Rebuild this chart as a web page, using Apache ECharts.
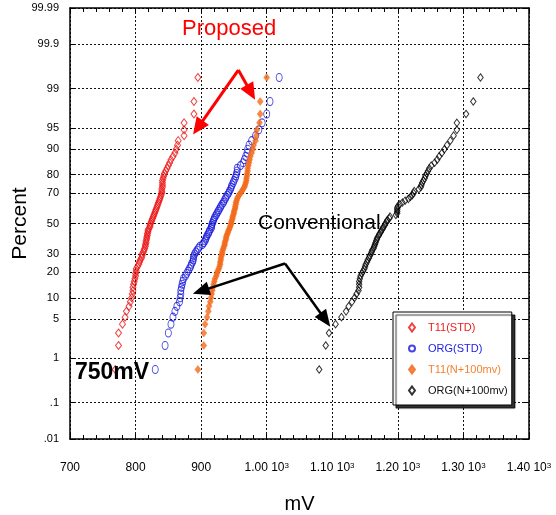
<!DOCTYPE html>
<html><head><meta charset="utf-8">
<script src="https://cdn.jsdelivr.net/npm/echarts@6/dist/echarts.min.js"></script>
<style>html,body{margin:0;padding:0;background:#fff}#c{width:556px;height:515px}</style>
</head><body><div id="c"></div>
<script>
// ---------- data (mV, sorted; plotted at median-rank percentiles) ----------
const seriesNames = ['T11(STD)', 'ORG(STD)', 'T11(N+100mv)', 'ORG(N+100mv)'];
const t11Std = [769,774,774,780,784,786,790,792,794,795,
  796,796,797,798,799,800,800,801,801,803,
  805,806,807,809,810,810,812,813,814,815,
  815,816,816,817,817,818,818,819,819,820,
  822,822,823,824,825,826,827,828,829,830,
  831,832,833,834,835,836,837,838,839,840,
  840,840,841,841,841,841,842,843,844,846,
  848,850,852,854,857,860,862,864,865,874,
  874,874,889,889,895];
const orgStd = [830,845,850,854,857,860,863,867,868,869,
  869,870,871,872,873,876,878,880,882,884,
  885,887,888,888,889,890,892,894,896,898,
  902,904,906,907,908,909,911,912,913,915,
  916,916,917,918,919,920,921,923,924,926,
  927,929,930,932,934,935,937,938,940,942,
  943,945,946,947,949,950,952,953,954,955,
  955,960,964,966,968,970,971,973,977,983,
  988,993,1000,1005,1019];
const t11N100 = [895,904,904,906,909,911,912,914,915,916,
  917,918,919,920,921,923,924,925,927,928,
  929,929,930,930,931,932,932,933,934,935,
  936,936,937,938,938,939,940,941,942,943,
  944,945,946,946,947,948,948,949,950,950,
  951,952,952,953,953,954,955,956,958,960,
  962,964,966,967,968,969,969,970,970,971,
  971,972,973,974,975,977,979,980,983,984,
  985,989,990,990,1000];
const orgN100 = [1080,1090,1095,1105,1114,1121,1125,1130,1134,1137,
  1140,1141,1141,1141,1142,1143,1145,1147,1149,1150,
  1151,1153,1154,1156,1157,1159,1160,1161,1163,1164,
  1165,1166,1167,1168,1169,1171,1172,1174,1175,1177,
  1178,1180,1181,1183,1184,1187,1188,1197,1199,1199,
  1199,1199,1200,1203,1207,1211,1216,1219,1222,1224,
  1225,1232,1235,1236,1237,1239,1241,1242,1244,1246,
  1248,1251,1256,1260,1263,1267,1271,1275,1280,1285,
  1290,1290,1304,1315,1326];

const xTickValues = [700, 800, 900, 1000, 1100, 1200, 1300, 1400];
const xTickLabels = ['700', '800', '900', '1.00 10^3', '1.10 10^3', '1.20 10^3', '1.30 10^3', '1.40 10^3'];
const yTickPercents = [0.01, 0.1, 1, 5, 10, 20, 30, 50, 70, 80, 90, 95, 99, 99.9, 99.99];
const yTickLabels = ['.01', '.1', '1', '5', '10', '20', '30', '50', '70', '80', '90', '95', '99', '99.9', '99.99'];

// annotation arrows: [mV, percent] apex -> end
const proposedArrows = [[[956.7, 99.595], [895.1, 95.1]], [[956.7, 99.595], [975.9, 98.82]]];
const conventionalArrows = [[[1027.9, 24.5], [899.6, 12.18]], [[1027.9, 24.5], [1089.4, 4.84]]];

// ---------- normal probability (probit) transform ----------
function probit(p) {
  const a = [-3.969683028665376e+01, 2.209460984245205e+02, -2.759285104469687e+02, 1.383577518672690e+02, -3.066479806614716e+01, 2.506628277459239e+00];
  const b = [-5.447609879822406e+01, 1.615858368580409e+02, -1.556989798598866e+02, 6.680131188771972e+01, -1.328068155288572e+01];
  const c = [-7.784894002430293e-03, -3.223964580411365e-01, -2.400758277161838e+00, -2.549671010229528e+00, 4.374664141464968e+00, 2.938163982698783e+00];
  const d = [7.784695709041462e-03, 3.224671290700398e-01, 2.445134137142996e+00, 3.754408661907416e+00];
  const pl = 0.02425, ph = 1 - pl;
  let q, r;
  if (p < pl) { q = Math.sqrt(-2 * Math.log(p)); return (((((c[0]*q+c[1])*q+c[2])*q+c[3])*q+c[4])*q+c[5]) / ((((d[0]*q+d[1])*q+d[2])*q+d[3])*q+1); }
  if (p <= ph) { q = p - 0.5; r = q*q; return (((((a[0]*r+a[1])*r+a[2])*r+a[3])*r+a[4])*r+a[5])*q / (((((b[0]*r+b[1])*r+b[2])*r+b[3])*r+b[4])*r+1); }
  q = Math.sqrt(-2 * Math.log(1 - p));
  return -(((((c[0]*q+c[1])*q+c[2])*q+c[3])*q+c[4])*q+c[5]) / ((((d[0]*q+d[1])*q+d[2])*q+d[3])*q+1);
}
const pz = pct => probit(pct / 100);
const yTickZ = yTickPercents.map(pz);
const zMin = yTickZ[0], zMax = yTickZ[yTickZ.length - 1];
const toPoints = arr => arr.map((v, i) => [v, probit((i + 0.5) / arr.length)]);
const arrowData = list => list.map(seg => [{ coord: [seg[0][0], pz(seg[0][1])] }, { coord: [seg[1][0], pz(seg[1][1])] }]);

const SANS = '"Liberation Sans", Arial, sans-serif';

function xLabel(v) {
  const i = xTickValues.findIndex(t => Math.abs(t - v) < 1e-6);
  const s = i >= 0 ? xTickLabels[i] : String(v);
  const k = s.indexOf('^');
  if (k < 0) return '{n|' + s + '}';
  return '{n|' + s.slice(0, k) + '}{s|' + s.slice(k + 1) + '}';
}
function yLabel(v) {
  let best = 0, bd = Infinity;
  yTickZ.forEach((z, i) => { const dd = Math.abs(z - v); if (dd < bd) { bd = dd; best = i; } });
  return yTickLabels[best];
}

const axisLine = { show: true, onZero: false, lineStyle: { color: '#000', width: 1.5 } };
const hollow = c => ({ color: 'rgba(255,255,255,0)', borderColor: c, borderWidth: 1 });

const chart = echarts.init(document.getElementById('c'), null, { renderer: 'canvas' });
chart.setOption({
  animation: false,
  backgroundColor: '#fff',
  grid: { left: 70, right: 27, top: 8, bottom: 76, containLabel: false, outerBoundsMode: 'none' },
  xAxis: [
    {
      type: 'value', min: 700, max: 1400, interval: 100, position: 'bottom',
      axisLine: axisLine,
      axisTick: { show: true, inside: true, length: 5, lineStyle: { color: '#000' } },
      minorTick: { show: true, splitNumber: 5, length: 4, lineStyle: { color: '#000' } },
      splitLine: { show: true, lineStyle: { color: '#111', type: [2, 2], width: 1 } },
      axisLabel: {
        margin: 23, formatter: xLabel,
        rich: {
          n: { fontFamily: SANS, fontSize: 12, color: '#000' },
          s: { fontFamily: SANS, fontSize: 8, color: '#000', verticalAlign: 'top' }
        }
      },
      name: 'mV', nameLocation: 'middle', nameGap: 55, nameMoveOverlap: false,
      nameTextStyle: { fontFamily: SANS, fontSize: 20, color: '#000' }
    },
    {
      type: 'value', min: 700, max: 1400, interval: 100, position: 'top',
      axisLine: axisLine,
      axisTick: { show: true, inside: true, length: 5, lineStyle: { color: '#000' } },
      minorTick: { show: true, splitNumber: 5, length: 4, lineStyle: { color: '#000' } },
      splitLine: { show: false }, axisLabel: { show: false }
    }
  ],
  yAxis: [
    {
      type: 'value', min: zMin, max: zMax, position: 'left',
      axisLine: axisLine,
      axisTick: { show: true, inside: true, length: 5, customValues: yTickZ, lineStyle: { color: '#000' } },
      axisLabel: { customValues: yTickZ, formatter: yLabel, margin: 11, fontFamily: SANS, fontSize: 11, color: '#000' },
      splitLine: { show: true, lineStyle: { color: '#111', type: [2, 2], width: 1 } },
      name: 'Percent', nameLocation: 'middle', nameGap: 39, nameRotate: 90, nameMoveOverlap: false,
      nameTextStyle: { fontFamily: SANS, fontSize: 21, color: '#000' }
    },
    {
      type: 'value', min: zMin, max: zMax, position: 'right',
      axisLine: axisLine,
      axisTick: { show: true, inside: true, length: 5, customValues: yTickZ, lineStyle: { color: '#000' } },
      axisLabel: { show: false }, splitLine: { show: false }
    }
  ],
  legend: {
    orient: 'vertical', left: 393, top: 312,
    padding: [9, 4, 8, 15], itemGap: 8, itemWidth: 6, itemHeight: 8, symbolKeepAspect: false,
    backgroundColor: '#fff', borderColor: '#000', borderWidth: 1,
    shadowColor: 'rgba(0,0,0,0.8)', shadowBlur: 1, shadowOffsetX: 3, shadowOffsetY: 3,
    selectedMode: false,
    textStyle: { fontFamily: SANS, fontSize: 11, lineHeight: 13, padding: [0, 0, 0, 8] },
    data: [
      { name: seriesNames[0], textStyle: { color: '#ee1c1c' } },
      { name: seriesNames[1], textStyle: { color: '#2020e6' } },
      { name: seriesNames[2], textStyle: { color: '#f5822f' } },
      { name: seriesNames[3], textStyle: { color: '#111' } }
    ]
  },
  series: [
    { name: seriesNames[0], type: 'scatter', symbol: 'diamond', symbolSize: [6, 8], itemStyle: hollow('#ee1111'), data: toPoints(t11Std) },
    { name: seriesNames[1], type: 'scatter', symbol: 'circle', symbolSize: [6, 8], itemStyle: hollow('#1616dc'), data: toPoints(orgStd) },
    { name: seriesNames[2], type: 'scatter', symbol: 'diamond', symbolSize: [6, 8], itemStyle: { color: '#f26b1d', borderColor: '#f26b1d', borderWidth: 0.5 }, data: toPoints(t11N100) },
    { name: seriesNames[3], type: 'scatter', symbol: 'diamond', symbolSize: [5.5, 7.5], itemStyle: hollow('#000'), data: toPoints(orgN100) },
    {
      name: 'arrowsProposed', type: 'scatter', data: [], silent: true,
      markLine: {
        silent: true, symbol: ['none', 'triangle'], symbolSize: [15, 17],
        label: { show: false }, lineStyle: { color: '#ff0000', width: 3, type: 'solid' },
        data: arrowData(proposedArrows)
      }
    },
    {
      name: 'arrowsConventional', type: 'scatter', data: [], silent: true,
      markLine: {
        silent: true, symbol: ['none', 'triangle'], symbolSize: [14, 17],
        label: { show: false }, lineStyle: { color: '#000', width: 2.5, type: 'solid' },
        data: arrowData(conventionalArrows)
      }
    }
  ],
  graphic: [
    { type: 'text', x: 182, y: 29, z: 100, style: { text: 'Proposed', font: '22px ' + SANS, fill: '#ff0000', align: 'left', verticalAlign: 'middle' } },
    { type: 'text', x: 258, y: 223, z: 100, style: { text: 'Conventional', font: '21px ' + SANS, fill: '#000', align: 'left', verticalAlign: 'middle' } },
    { type: 'text', x: 75, y: 373, z: 100, style: { text: '750mV', font: 'bold 23px ' + SANS, fill: '#000', align: 'left', verticalAlign: 'middle' } }
  ]
});
</script></body></html>
